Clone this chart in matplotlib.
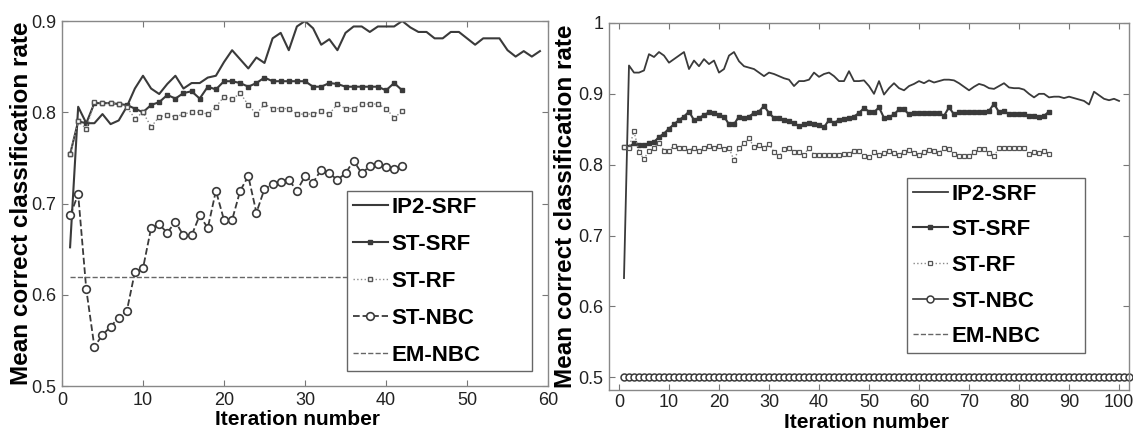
import numpy as np
import matplotlib.pyplot as plt

plt.rcParams['font.family'] = ['Liberation Sans', 'DejaVu Sans']

# ---- left panel data ----
ip2_left = [0.652, 0.806, 0.788, 0.788, 0.798, 0.787, 0.791, 0.806, 0.826, 0.840,
            0.826, 0.820, 0.831, 0.840, 0.826, 0.832, 0.832, 0.838, 0.840, 0.855,
            0.868, 0.858, 0.848, 0.860, 0.854, 0.881, 0.887, 0.868, 0.894, 0.900,
            0.892, 0.874, 0.880, 0.868, 0.887, 0.894, 0.894, 0.888, 0.894, 0.894,
            0.894, 0.900, 0.893, 0.888, 0.888, 0.881, 0.881, 0.888, 0.888, 0.881,
            0.874, 0.881, 0.881, 0.881, 0.868, 0.861, 0.867, 0.861, 0.867]
stsrf_left = [0.754, 0.790, 0.788, 0.810, 0.810, 0.810, 0.809, 0.808, 0.804, 0.800,
              0.808, 0.811, 0.819, 0.815, 0.821, 0.823, 0.815, 0.828, 0.825, 0.834,
              0.834, 0.832, 0.828, 0.832, 0.838, 0.834, 0.834, 0.834, 0.834, 0.834,
              0.828, 0.828, 0.832, 0.831, 0.828, 0.828, 0.828, 0.828, 0.828, 0.824,
              0.832, 0.824]
strf_left = [0.754, 0.790, 0.782, 0.811, 0.810, 0.810, 0.809, 0.806, 0.793, 0.800,
             0.784, 0.795, 0.797, 0.795, 0.798, 0.800, 0.800, 0.798, 0.806, 0.817,
             0.814, 0.821, 0.808, 0.798, 0.809, 0.804, 0.804, 0.804, 0.798, 0.798,
             0.798, 0.801, 0.798, 0.809, 0.804, 0.804, 0.809, 0.809, 0.809, 0.804,
             0.794, 0.801]
stnbc_left = [0.687, 0.710, 0.606, 0.543, 0.556, 0.565, 0.575, 0.582, 0.625, 0.629,
              0.673, 0.677, 0.668, 0.680, 0.665, 0.665, 0.687, 0.673, 0.714, 0.682,
              0.682, 0.714, 0.730, 0.690, 0.716, 0.721, 0.724, 0.726, 0.714, 0.730,
              0.723, 0.737, 0.733, 0.726, 0.733, 0.747, 0.733, 0.741, 0.743, 0.740,
              0.738, 0.741]
emnbc_left_x = [1, 42]
emnbc_left = [0.620, 0.620]

# ---- right panel data ----
ip2_right = [0.640, 0.940, 0.930, 0.930, 0.933, 0.956, 0.952, 0.959, 0.954, 0.944,
             0.949, 0.954, 0.959, 0.935, 0.947, 0.939, 0.949, 0.942, 0.947, 0.930,
             0.935, 0.954, 0.959, 0.946, 0.939, 0.937, 0.935, 0.930, 0.925, 0.930,
             0.928, 0.925, 0.922, 0.920, 0.911, 0.918, 0.918, 0.920, 0.930, 0.924,
             0.928, 0.930, 0.925, 0.918, 0.918, 0.932, 0.918, 0.918, 0.919, 0.911,
             0.900, 0.918, 0.899, 0.908, 0.915, 0.908, 0.905, 0.911, 0.914, 0.918,
             0.915, 0.919, 0.916, 0.918, 0.920, 0.920, 0.919, 0.915, 0.910, 0.905,
             0.910, 0.914, 0.912, 0.908, 0.907, 0.911, 0.915, 0.909, 0.908, 0.908,
             0.906, 0.900, 0.895, 0.900, 0.900, 0.895, 0.896, 0.896, 0.894, 0.896,
             0.894, 0.892, 0.890, 0.885, 0.903, 0.898, 0.893, 0.891, 0.893, 0.890]
stsrf_right = [0.825, 0.825, 0.830, 0.828, 0.828, 0.830, 0.832, 0.839, 0.844, 0.851,
               0.857, 0.863, 0.868, 0.875, 0.863, 0.866, 0.870, 0.874, 0.873, 0.870,
               0.868, 0.857, 0.857, 0.868, 0.866, 0.868, 0.873, 0.875, 0.883, 0.873,
               0.866, 0.866, 0.863, 0.861, 0.859, 0.854, 0.857, 0.859, 0.857, 0.856,
               0.853, 0.863, 0.859, 0.863, 0.865, 0.866, 0.868, 0.873, 0.880, 0.875,
               0.874, 0.881, 0.866, 0.867, 0.871, 0.878, 0.878, 0.871, 0.873, 0.873,
               0.873, 0.873, 0.873, 0.873, 0.869, 0.881, 0.871, 0.874, 0.874, 0.874,
               0.874, 0.874, 0.874, 0.876, 0.886, 0.874, 0.876, 0.871, 0.871, 0.871,
               0.871, 0.869, 0.869, 0.867, 0.869, 0.875]
strf_right = [0.825, 0.824, 0.847, 0.818, 0.808, 0.820, 0.824, 0.831, 0.820, 0.820,
              0.827, 0.824, 0.823, 0.820, 0.824, 0.819, 0.823, 0.827, 0.824, 0.827,
              0.822, 0.824, 0.806, 0.823, 0.830, 0.837, 0.825, 0.828, 0.824, 0.829,
              0.818, 0.812, 0.822, 0.824, 0.818, 0.818, 0.814, 0.824, 0.814, 0.813,
              0.813, 0.813, 0.813, 0.813, 0.815, 0.815, 0.820, 0.820, 0.812, 0.811,
              0.818, 0.813, 0.816, 0.820, 0.816, 0.814, 0.818, 0.821, 0.816, 0.814,
              0.818, 0.821, 0.819, 0.816, 0.824, 0.822, 0.815, 0.812, 0.812, 0.812,
              0.818, 0.822, 0.822, 0.816, 0.812, 0.824, 0.824, 0.824, 0.824, 0.824,
              0.824, 0.815, 0.818, 0.816, 0.820, 0.815]
stnbc_right = [0.5] * 102
emnbc_right_x = [1, 100]
emnbc_right = [0.5, 0.5]

c_line = '#3a3a3a'
c_light = '#8a8a8a'

fig = plt.figure(figsize=(11.33, 4.33), dpi=100)
axl = fig.add_axes([0.0547, 0.1085, 0.429, 0.843])
axr = fig.add_axes([0.5375, 0.0993, 0.459, 0.8476])

def x_of(v):
    return np.arange(1, len(v) + 1)

# left
axl.plot(x_of(ip2_left), ip2_left, '-', color=c_line, lw=1.5, label='IP2-SRF')
axl.plot(x_of(stsrf_left), stsrf_left, '-', color=c_line, lw=1.5, marker='s',
         ms=3, mfc=c_line, mec=c_line, label='ST-SRF')
axl.plot(x_of(strf_left), strf_left, ':', color=c_light, lw=1.0, marker='s',
         ms=3.5, mfc='white', mec='#555555', mew=1.0, label='ST-RF')
axl.plot(x_of(stnbc_left), stnbc_left, '--', color=c_line, lw=1.3, marker='o',
         ms=5.5, mfc='white', mec=c_line, mew=1.2, label='ST-NBC')
axl.plot(emnbc_left_x, emnbc_left, '--', color='#666666', lw=1.0, label='EM-NBC')
axl.set_xlim(0, 60)
axl.set_ylim(0.5, 0.9)
axl.set_xticks([0, 10, 20, 30, 40, 50, 60])
axl.set_yticks([0.5, 0.6, 0.7, 0.8, 0.9])

# right
axr.plot(x_of(ip2_right), ip2_right, '-', color=c_line, lw=1.3, label='IP2-SRF')
axr.plot(x_of(stsrf_right), stsrf_right, '-', color=c_line, lw=1.5, marker='s',
         ms=2.5, mfc=c_line, mec=c_line, label='ST-SRF')
axr.plot(x_of(strf_right), strf_right, ':', color=c_light, lw=1.0, marker='s',
         ms=3.2, mfc='white', mec='#555555', mew=0.9, label='ST-RF')
axr.plot(emnbc_right_x, emnbc_right, '--', color='#666666', lw=1.0, label='EM-NBC')
axr.plot(x_of(stnbc_right), stnbc_right, '-', color=c_line, lw=1.2, marker='o',
         ms=5, mfc='white', mec=c_line, mew=1.1, label='ST-NBC', clip_on=False)
axr.set_xlim(-2, 102)
axr.set_ylim(0.482, 1.0)
axr.set_xticks(range(0, 101, 10))
axr.set_yticks([0.5, 0.6, 0.7, 0.8, 0.9, 1.0])
axr.set_yticklabels(['0.5', '0.6', '0.7', '0.8', '0.9', '1'])

for ax in (axl, axr):
    ax.tick_params(direction='in', top=True, right=True, length=4, width=0.8,
                   color='#777777', labelsize=13, labelcolor='#222222', pad=4)
    for s in ax.spines.values():
        s.set_color('#888888')
        s.set_linewidth(1.0)
    ax.set_xlabel('Iteration number', fontsize=15, fontweight='bold')
    ax.set_ylabel('Mean correct classification rate', fontsize=17.5,
                  fontweight='bold')
axr.tick_params(axis='x', pad=3)
axl.xaxis.set_label_coords(0.485, -0.066)
axr.xaxis.set_label_coords(0.495, -0.063)
axl.yaxis.set_label_coords(-0.060, 0.5)
axr.yaxis.set_label_coords(-0.061, 0.5)

# legend boxes: (left, top, width) in figure pixels, row spacing
order = ['IP2-SRF', 'ST-SRF', 'ST-RF', 'ST-NBC', 'EM-NBC']
W, H = 1133, 433
for ax, (lx, ty, wd), sp in ((axl, (347, 191, 185), 0.72),
                             (axr, (907, 178, 178), 0.66)):
    h, l = ax.get_legend_handles_labels()
    hd = dict(zip(l, h))
    leg = ax.legend([hd[k] for k in order], order, loc='upper left',
                    bbox_to_anchor=(lx / W, 1 - ty / H, wd / W, 0.0),
                    bbox_transform=fig.transFigure, mode='expand',
                    fancybox=False, edgecolor='#666666', framealpha=1,
                    prop={'weight': 'bold', 'size': 16}, handlelength=1.6,
                    handletextpad=0.15, labelspacing=sp, borderpad=0.25,
                    borderaxespad=0)
    leg.get_frame().set_linewidth(1.0)

fig.savefig('out.png', dpi=100)
